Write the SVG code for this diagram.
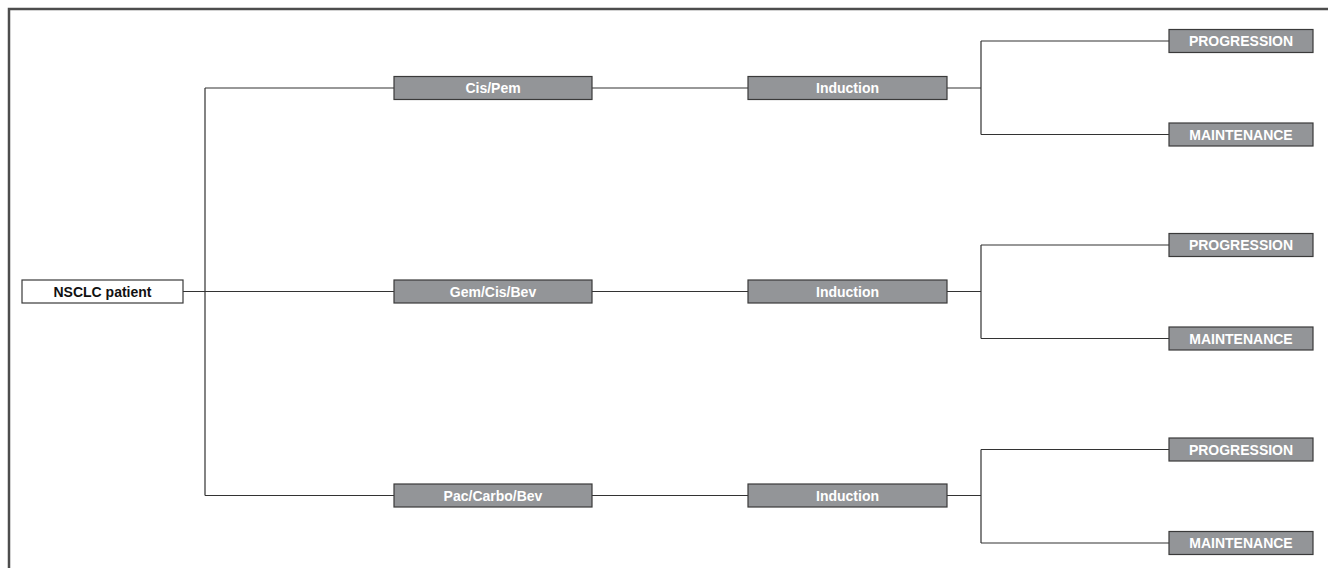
<svg xmlns="http://www.w3.org/2000/svg" width="1328" height="568" viewBox="0 0 1328 568">
<style>
.frame{fill:none;stroke:#4d4d4d;stroke-width:2.5}
.box{fill:#939598;stroke:#3a3a3a;stroke-width:1.2}
.wbox{fill:#fff;stroke:#3a3a3a;stroke-width:1.2}
.lbl{font-family:"Liberation Sans",Arial,sans-serif;font-weight:bold;font-size:14px;text-anchor:middle;fill:#fff}
.dlbl{font-family:"Liberation Sans",Arial,sans-serif;font-weight:bold;font-size:14px;text-anchor:middle;fill:#111}
.conn{fill:none;stroke:#333;stroke-width:1.2}
</style>
<rect width="1328" height="568" fill="#fff"/>
<rect class="frame" x="9" y="9" width="1330" height="570"/>
<g id="connectors">
<path class="conn" d="M183,291.5 H394 M205,88 V495.5 M205,88 H394 M205,495.5 H394"/>
<path class="conn" d="M592,88 H748 M592,291.5 H748 M592,495.5 H748"/>
<path class="conn" d="M947,88 H981 M981,41 V134.5 M981,41 H1169 M981,134.5 H1169"/>
<path class="conn" d="M947,291.5 H981 M981,245 V338.5 M981,245 H1169 M981,338.5 H1169"/>
<path class="conn" d="M947,495.5 H981 M981,449.5 V543 M981,449.5 H1169 M981,543 H1169"/>
</g>
<g id="nsclc"><rect class="wbox" x="22" y="280" width="161" height="23"/><text class="dlbl" x="102.5" y="296.5">NSCLC patient</text></g>
<g id="cispem"><rect class="box" x="394" y="76.5" width="198" height="23"/><text class="lbl" x="493" y="93">Cis/Pem</text></g>
<g id="gemcisbev"><rect class="box" x="394" y="280" width="198" height="23"/><text class="lbl" x="493" y="296.5">Gem/Cis/Bev</text></g>
<g id="paccarbobev"><rect class="box" x="394" y="484" width="198" height="23"/><text class="lbl" x="493" y="500.5">Pac/Carbo/Bev</text></g>
<g id="induction1"><rect class="box" x="748" y="76.5" width="199" height="23"/><text class="lbl" x="847.5" y="93">Induction</text></g>
<g id="induction2"><rect class="box" x="748" y="280" width="199" height="23"/><text class="lbl" x="847.5" y="296.5">Induction</text></g>
<g id="induction3"><rect class="box" x="748" y="484" width="199" height="23"/><text class="lbl" x="847.5" y="500.5">Induction</text></g>
<g id="prog1"><rect class="box" x="1169" y="29.5" width="144" height="23"/><text class="lbl" x="1241" y="46">PROGRESSION</text></g>
<g id="maint1"><rect class="box" x="1169" y="123" width="144" height="23"/><text class="lbl" x="1241" y="139.5">MAINTENANCE</text></g>
<g id="prog2"><rect class="box" x="1169" y="233.5" width="144" height="23"/><text class="lbl" x="1241" y="250">PROGRESSION</text></g>
<g id="maint2"><rect class="box" x="1169" y="327" width="144" height="23"/><text class="lbl" x="1241" y="343.5">MAINTENANCE</text></g>
<g id="prog3"><rect class="box" x="1169" y="438" width="144" height="23"/><text class="lbl" x="1241" y="454.5">PROGRESSION</text></g>
<g id="maint3"><rect class="box" x="1169" y="531.5" width="144" height="23"/><text class="lbl" x="1241" y="548">MAINTENANCE</text></g>
</svg>
